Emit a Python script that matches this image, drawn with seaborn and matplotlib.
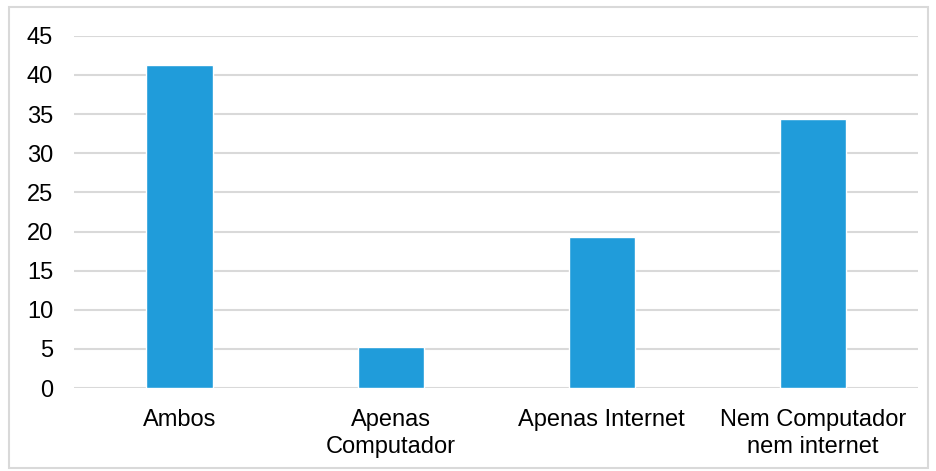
import pandas as pd
import matplotlib
matplotlib.use('Agg')
import matplotlib.pyplot as plt
import seaborn as sns
from matplotlib.patches import Rectangle

# dados
categorias = ['Ambos', 'Apenas\nComputador', 'Apenas Internet', 'Nem Computador\nnem internet']
valores = [41.3, 5.3, 19.3, 34.4]
yticks = [0, 5, 10, 15, 20, 25, 30, 35, 40, 45]

df = pd.DataFrame({'cat': categorias, 'val': valores})

sns.set_style('white')
plt.rcParams['font.family'] = ['Liberation Sans', 'DejaVu Sans']

fig = plt.figure(figsize=(9.36, 4.71), dpi=100)
ax = fig.add_axes([0.079, 0.176, 0.902, 0.748])

sns.barplot(data=df, x='cat', y='val', color='#209CDA', width=0.313, saturation=1, ax=ax, zorder=3)

ax.set_ylim(0, 45)
ax.set_yticks(yticks)
ax.set_xlim(-0.5, 3.5)
ax.yaxis.grid(True, color='#d9d9d9', linewidth=1.5, zorder=0)
ax.set_axisbelow(True)
ax.set_xlabel('')
ax.set_ylabel('')
for s in ax.spines.values():
    s.set_visible(False)
ax.tick_params(axis='both', length=0, labelsize=17, colors='#000000')
ax.tick_params(axis='y', pad=15)
ax.tick_params(axis='x', pad=15)
for lbl in ax.get_xticklabels():
    lbl.set_linespacing(1.3)

# moldura externa
fig.patches.append(Rectangle((9 / 936, 1 - 468 / 471), 919 / 936, 461 / 471,
                             transform=fig.transFigure, fill=False,
                             edgecolor='#d9d9d9', linewidth=1.5))

fig.savefig('out.png', dpi=100)
